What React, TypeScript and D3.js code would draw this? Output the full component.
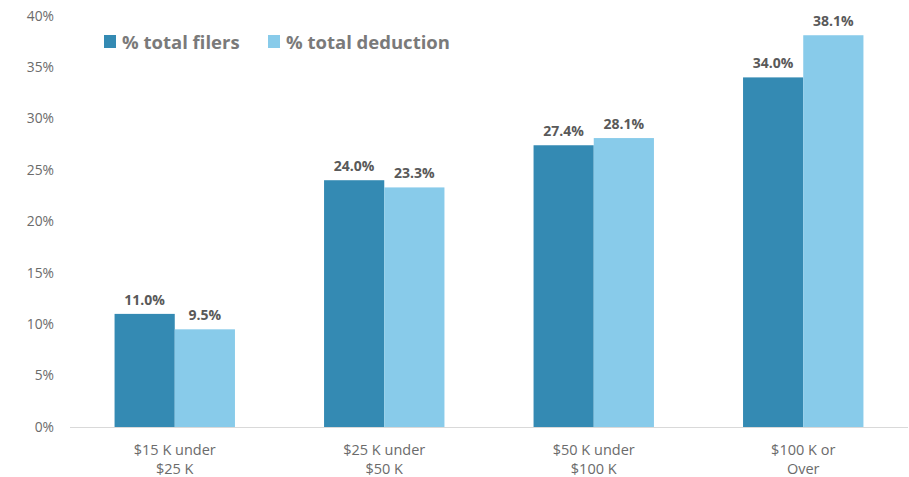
import React from "react";
import * as d3 from "d3";

const categories = [["$15 K under", "$25 K"], ["$25 K under", "$50 K"], ["$50 K under", "$100 K"], ["$100 K or", "Over"]];
const filers = [11.0, 24.0, 27.4, 34.0];
const deduction = [9.5, 23.3, 28.1, 38.1];
const yTicks = [0, 5, 10, 15, 20, 25, 30, 35, 40];
const seriesNames = ["% total filers", "% total deduction"];
const colors = ["#348AB3", "#88CBEA"];

export default function App() {
  const W = 909, H = 477;
  const left = 70, right = 908, top = 15.7, bottom = 427;
  const x = d3.scaleBand<number>().domain(d3.range(categories.length)).range([left, right]).paddingInner(0.4253).paddingOuter(0.2127);
  const y = d3.scaleLinear().domain([0, 40]).range([bottom, top]);
  const bw = x.bandwidth() / 2;
  const font = "'Open Sans', sans-serif";
  const series = [filers, deduction];
  return (
    <svg width={W} height={H} style={{ position: "absolute", left: 0, top: 0, fontFamily: font }}>
      <rect width={W} height={H} fill="#fff" />
      {yTicks.map(t => (
        <text key={t} x={54} y={y(t)} dy="0.35em" textAnchor="end" fontSize={13.8} fill="#6b6b6b">{t}%</text>
      ))}
      {series.map((s, si) => s.map((v, i) => (
        <g key={`${si}-${i}`}>
          <rect x={(x(i) as number) + si * bw} y={y(v)} width={bw} height={bottom - y(v)} fill={colors[si]} />
          <text x={(x(i) as number) + si * bw + bw / 2} y={y(v) - 9} textAnchor="middle" fontSize={14} fontWeight="bold" fill="#595959">{v.toFixed(1)}%</text>
        </g>
      )))}
      <line x1={left} x2={right} y1={bottom + 0.5} y2={bottom + 0.5} stroke="#d9d9d9" strokeWidth={1} />
      {categories.map((c, i) => (
        <text key={i} x={(x(i) as number) + x.bandwidth() / 2} textAnchor="middle" fontSize={14.5} fill="#6b6b6b">
          <tspan x={(x(i) as number) + x.bandwidth() / 2} y={454.5}>{c[0]}</tspan>
          <tspan x={(x(i) as number) + x.bandwidth() / 2} y={474}>{c[1]}</tspan>
        </text>
      ))}
      {seriesNames.map((n, i) => {
        const lx = [104, 268][i];
        return (
          <g key={n}>
            <rect x={lx} y={35} width={12} height={13} fill={colors[i]} />
            <text x={lx + 18} y={48.5} fontSize={18.5} fontWeight="bold" fill="#7a7a7a">{n}</text>
          </g>
        );
      })}
    </svg>
  );
}
